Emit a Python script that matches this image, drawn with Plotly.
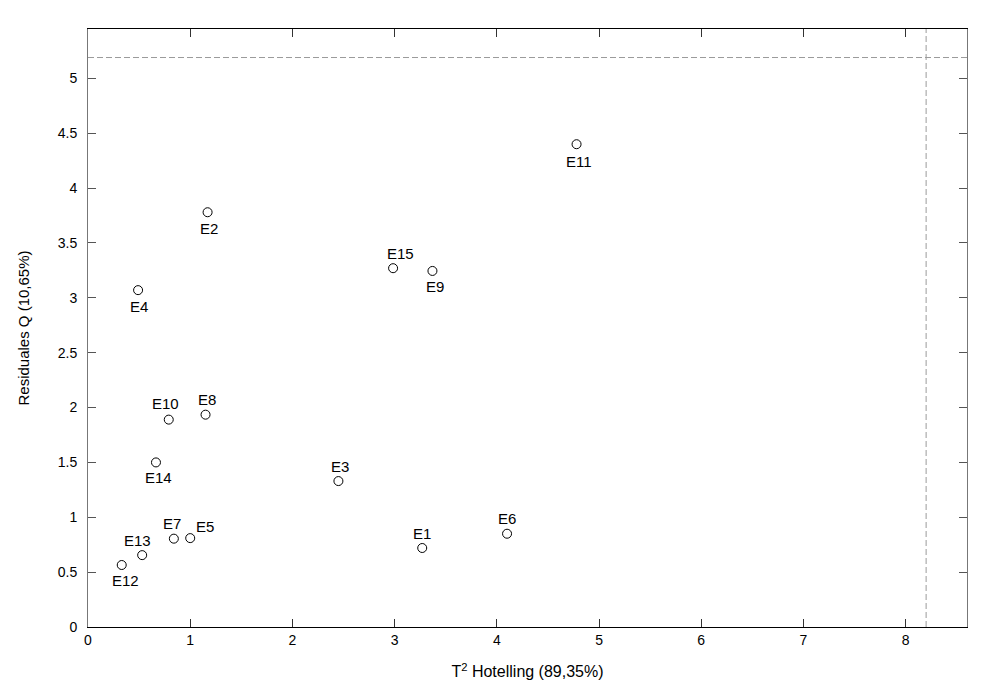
import plotly.graph_objects as go

# ---- data ----
labels = ["E1", "E2", "E3", "E4", "E5", "E6", "E7", "E8", "E9", "E10",
          "E11", "E12", "E13", "E14", "E15"]
t2_values = [3.27, 1.17, 2.45, 0.49, 1.00, 4.10, 0.84, 1.15, 3.37, 0.79,
             4.78, 0.33, 0.53, 0.665, 2.985]
q_values = [0.72, 3.78, 1.33, 3.07, 0.81, 0.85, 0.805, 1.935, 3.245, 1.89,
            4.40, 0.565, 0.655, 1.50, 3.27]
t2_limit = 8.20
q_limit = 5.19
x_ticks = [0, 1, 2, 3, 4, 5, 6, 7, 8]
y_ticks = [0, 0.5, 1, 1.5, 2, 2.5, 3, 3.5, 4, 4.5, 5]
y_tick_text = ["0", "0.5", "1", "1.5", "2", "2.5", "3", "3.5", "4", "4.5", "5"]

# label placement (pixel offsets relative to marker: +dx right, +dy down)
label_dx = [0, 1, 2, 1, 15, 0, -2, 1, 3, -3, 2, 4, -5, 3, 7]
label_dy = [-15, 16, -15, 16, -12, -15, -15, -15, 16, -16, 17, 15, -15, 15, -15]

FONT = "Liberation Sans, Arial, Helvetica, sans-serif"

fig = go.Figure()
fig.add_trace(go.Scatter(
    x=t2_values, y=q_values, mode="markers",
    marker=dict(symbol="circle-open", size=9, color="black",
                line=dict(width=1, color="black")),
    hoverinfo="text", text=labels, showlegend=False,
))

for lab, xv, yv, dx, dy in zip(labels, t2_values, q_values, label_dx, label_dy):
    fig.add_annotation(x=xv, y=yv, text=lab, showarrow=False,
                       xshift=dx, yshift=-dy,
                       font=dict(family=FONT, size=15, color="black"))

# control limits
fig.add_shape(type="line", xref="paper", yref="y", x0=0, x1=1, y0=q_limit, y1=q_limit,
              line=dict(color="#9a9a9a", width=1, dash="6px,3px"))
fig.add_shape(type="line", xref="x", yref="paper", x0=t2_limit, x1=t2_limit, y0=0, y1=1,
              line=dict(color="#9a9a9a", width=1, dash="6px,3px"))

fig.update_layout(
    width=992, height=685,
    margin=dict(l=80, r=33, t=21, b=66),
    paper_bgcolor="white", plot_bgcolor="white",
    font=dict(family=FONT, size=14, color="black"),
    xaxis=dict(
        range=[0, 8.6], tickvals=x_ticks, ticks="inside", ticklen=8,
        tickcolor="#333", showgrid=False, zeroline=False,
        showline=True, linecolor="black", linewidth=1, mirror="ticks",
        tickfont=dict(size=14),
        title=dict(text="T<sup>2</sup> Hotelling (89,35%)", font=dict(size=16), standoff=19),
    ),
    yaxis=dict(
        range=[0, 5.45], tickvals=y_ticks, ticktext=y_tick_text, ticks="inside", ticklen=8,
        tickcolor="#555", showgrid=False, zeroline=False,
        showline=True, linecolor="#777", linewidth=1, mirror="ticks",
        tickfont=dict(size=14), ticklabelstandoff=7,
        title=dict(text="Residuales Q (10,65%)", font=dict(size=15), standoff=24),
    ),
)

fig.write_html("out.html")
